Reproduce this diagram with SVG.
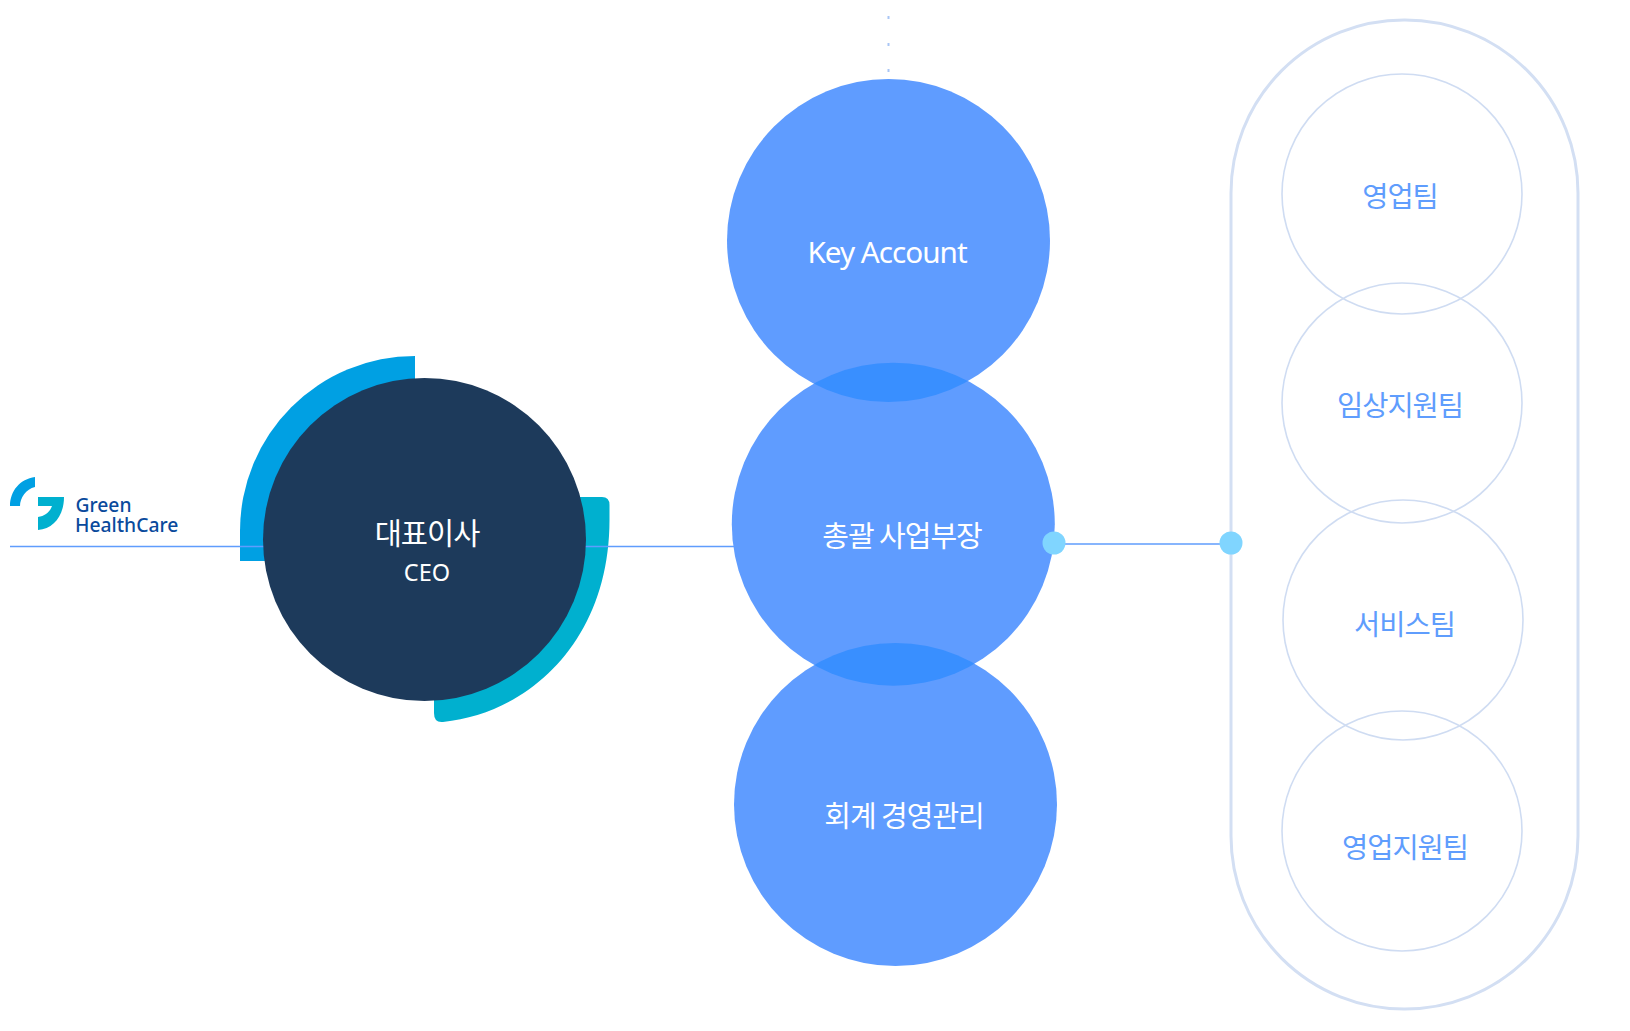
<svg xmlns="http://www.w3.org/2000/svg" width="1630" height="1031" viewBox="0 0 1630 1031">
<style>
text{font-family:"Noto Sans CJK KR","Noto Sans",sans-serif;text-anchor:middle}
.w{fill:#fff;font-size:29px;letter-spacing:-1px}
.b{fill:#5f9dfd;font-size:28.500px;letter-spacing:-1px}
.big{fill:#5f9cff}
.lens{fill:#398fff}
.ring{fill:none;stroke:#cfdcf2;stroke-width:1.6}
.dot{fill:#80d5ff}
.ln{stroke:#5f9dfd;stroke-width:1.3;fill:none}
.lat{font-family:"Noto Sans",sans-serif}
.logo{font-family:"Noto Sans",sans-serif;text-anchor:start;font-size:19.300px;font-weight:500;fill:#0a4a9c}
</style>
<defs>
<clipPath id="c-key"><circle cx="888.500" cy="240.500" r="161.500"/></clipPath>
<clipPath id="c-acct"><circle cx="895.500" cy="804.500" r="161.500"/></clipPath>
</defs>
<rect width="1630" height="1031" fill="#fff"/>
<g id="ceo-arcs">
<path d="M415 356A175 175 0 0 0 240 531V561H290L415 420Z" fill="#00a0e3"/>
<path d="M578 497H602Q609.500 497 609.500 505V520C609.500 640 530 713 443 722Q434 723 434 713V660Z" fill="#00b0cf"/>
</g>
<g id="connectors">
<line class="ln" x1="10" y1="546.500" x2="734" y2="546.500"/>
<line class="ln" x1="1054" y1="544" x2="1231" y2="544"/>
<g fill="#a9c6f5"><rect x="887.500" y="16" width="2" height="3"/><rect x="887.500" y="43" width="2" height="3"/><rect x="887.500" y="69" width="2" height="3"/></g>
</g>
<g id="logo">
<path d="M35 477C20 479 10 491 10 506H20C20 498 26 489 35 487Z" fill="#00a0e3"/>
<path d="M38 497H64C64 515 54 529 38 530V517C45 516 50 512 52 506H38Z" fill="#00b0cf"/>
<text class="logo" x="75.500" y="512">Green</text>
<text class="logo" x="75" y="532">HealthCare</text>
</g>
<g id="ceo">
<circle cx="424.500" cy="539.500" r="161.500" fill="#1d3a5b"/>
<text class="w" x="427" y="544" style="font-size:29.500px">대표이사</text>
<text class="lat" x="427" y="581" fill="#fff" font-size="23.500">CEO</text>
</g>
<g id="key-account">
<circle class="big" cx="888.500" cy="240.500" r="161.500"/>
</g>
<g id="hq">
<circle class="big" cx="893.300" cy="524.200" r="161.500"/>
</g>
<g id="acct">
<circle class="big" cx="895.500" cy="804.500" r="161.500"/>
</g>
<g id="overlaps">
<circle class="lens" cx="893.300" cy="524.200" r="161.500" clip-path="url(#c-key)"/>
<circle class="lens" cx="893.300" cy="524.200" r="161.500" clip-path="url(#c-acct)"/>
</g>
<text class="w lat" x="887" y="263" style="font-family:'Noto Sans',sans-serif;font-size:29.700px">Key Account</text>
<text class="w" x="902" y="547">총괄 사업부장</text>
<text class="w" x="904" y="827">회계 경영관리</text>
<g id="teams">
<rect x="1231" y="20" width="347" height="989" rx="173" fill="none" stroke="#d3dff3" stroke-width="3"/>
<g id="team1"><circle class="ring" cx="1402" cy="194" r="120"/><text class="b" x="1400" y="207">영업팀</text></g>
<g id="team2"><circle class="ring" cx="1402" cy="403" r="120"/><text class="b" x="1400" y="416">임상지원팀</text></g>
<g id="team3"><circle class="ring" cx="1403" cy="620" r="120"/><text class="b" x="1404.500" y="635">서비스팀</text></g>
<g id="team4"><circle class="ring" cx="1402" cy="831" r="120"/><text class="b" x="1405" y="858">영업지원팀</text></g>
</g>
<circle class="dot" cx="1054" cy="543" r="11.500"/>
<circle class="dot" cx="1231" cy="543" r="11.500"/>
</svg>
